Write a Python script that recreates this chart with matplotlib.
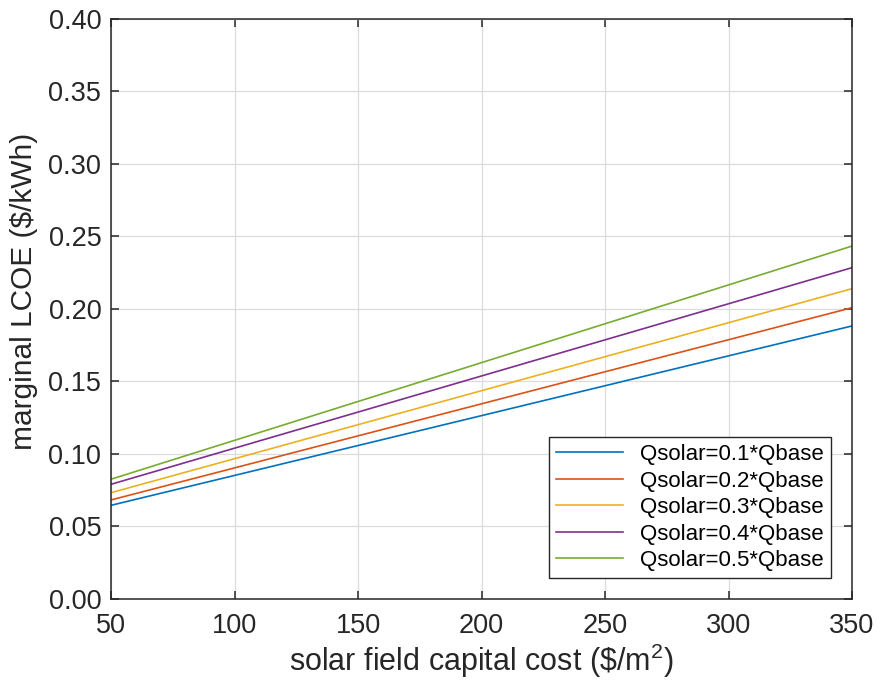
import matplotlib
matplotlib.use("Agg")
import matplotlib.pyplot as plt

plt.rcParams['font.family'] = ['Liberation Sans', 'DejaVu Sans']
plt.rcParams['mathtext.fontset'] = 'custom'
plt.rcParams['mathtext.rm'] = 'Liberation Sans'

# Solar field capital cost ($/m^2) at the ends of each line
cost = [50, 350]

# Marginal LCOE ($/kWh) for each solar fraction
lcoe_q01 = [0.0646, 0.1883]
lcoe_q02 = [0.0683, 0.2009]
lcoe_q03 = [0.0733, 0.2140]
lcoe_q04 = [0.0791, 0.2285]
lcoe_q05 = [0.0826, 0.2434]

labels = ["Qsolar=0.1*Qbase", "Qsolar=0.2*Qbase", "Qsolar=0.3*Qbase",
          "Qsolar=0.4*Qbase", "Qsolar=0.5*Qbase"]
series = [lcoe_q01, lcoe_q02, lcoe_q03, lcoe_q04, lcoe_q05]
colors = ["#0072BD", "#D95319", "#EDB120", "#7E2F8E", "#77AC30"]

xticks = [50, 100, 150, 200, 250, 300, 350]
yticks = [0.00, 0.05, 0.10, 0.15, 0.20, 0.25, 0.30, 0.35, 0.40]

fig = plt.figure(figsize=(8.79, 6.83), dpi=100)
ax = fig.add_axes([0.1263, 0.123, 0.8430, 0.8492])

for y, c, lab in zip(series, colors, labels):
    ax.plot(cost, y, color=c, lw=1.2, label=lab)

ax.set_xlim(50, 350)
ax.set_ylim(0, 0.4)
ax.set_xticks(xticks)
ax.set_yticks(yticks)
ax.set_yticklabels([f"{v:.2f}" for v in yticks])

ax.grid(True, color="#dcdcdc", lw=0.9)
ax.set_axisbelow(True)
for s in ax.spines.values():
    s.set_color("#262626")
    s.set_linewidth(1.1)
ax.tick_params(direction="in", length=6, width=1.1, colors="#262626",
               labelsize=19.5, top=True, right=True, labeltop=False,
               labelright=False)
ax.tick_params(axis="x", pad=10)
ax.tick_params(axis="y", pad=7)

ax.set_xlabel(r"solar field capital cost (\$/m$^{2}$)", fontsize=22,
              color="#262626", labelpad=2)
ax.set_ylabel("marginal LCOE ($/kWh)", fontsize=21.5, color="#262626")
ax.yaxis.set_label_coords(-0.099, 0.531)

leg = ax.legend(loc="lower right", fontsize=16, handlelength=3.0,
                fancybox=False, framealpha=1, edgecolor="#262626",
                borderaxespad=0.95, labelspacing=0.25, borderpad=0.3,
                handletextpad=0.8)
leg.get_frame().set_linewidth(1.0)

fig.savefig("out.png", dpi=100)
